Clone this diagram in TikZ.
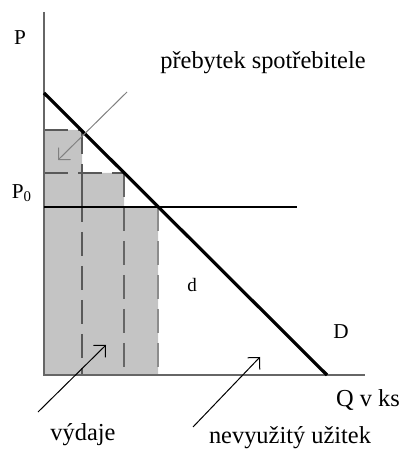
\documentclass[tikz,border=0pt]{standalone}
\usepackage{fontspec}
\setmainfont{Liberation Serif}
\usetikzlibrary{arrows.meta}

\tikzset{
  axisline/.style={gray!80!black, line width=0.8pt},
  stepline/.style={black!65, line width=0.6pt, dash pattern=on 12pt off 5pt},
  pointer/.style={-{Straight Barb[angle=90:6pt]}, line width=0.5pt},
  lbl/.style={font=\fontsize{12.2}{14}\selectfont, inner sep=0pt},
  sym/.style={font=\fontsize{10.6}{12}\selectfont, inner sep=0pt}
}

\begin{document}
\begin{tikzpicture}[x=0.5pt, y=0.5pt]
  \useasboundingbox (-44,-75) rectangle (359,375);

  % area of spending under the steps
  \fill[black!23] (0,0) -- (0,245) -- (38,245) -- (38,202) -- (80,202)
        -- (80,168) -- (114,168) -- (114,0) -- cycle;
  \foreach \x/\y/\c in {38/245/65, 80/202/60, 114/168/45}
    \draw[stepline, black!\c] (\x,\y) -- (\x,0);
  \foreach \x/\y in {38/245, 80/202}
    \draw[stepline] (0,\y) -- (\x,\y);
  \draw[black!65, line width=0.6pt] (38,202) -- (38,168);

  % axes
  \coordinate (O) at (0,0);
  \coordinate (Ptop) at (0,363);
  \coordinate (Qend) at (321,0);
  \draw[axisline] (Ptop) -- (O) -- (Qend);

  % price level and demand
  \coordinate (P0a) at (0,168);
  \coordinate (P0b) at (253,168);
  \draw[line width=1.3pt] (P0a) -- (P0b);
  \coordinate (Da) at (0,282);
  \coordinate (Db) at (283,0);
  \draw[line width=1.6pt] (Da) -- (Db);

  % labels
  \node[sym] (lP) at (-24,337) {P};
  \node[sym] (lP0) at (-22,182) {P\textsubscript{0}};
  \node[sym] (lD) at (297,43) {D};
  \node[sym, font=\fontsize{9.5}{11}\selectfont] (ld) at (148,90) {d};
  \node[lbl] (lQ) at (324,-25) {Q v ks};
  \node[lbl] (lps) at (219,312) {přebytek spotřebitele};
  \node[lbl] (lvy) at (39,-60) {výdaje};
  \node[lbl] (lnu) at (246,-63) {nevyužitý užitek};

  % pointers
  \coordinate (a1s) at (83,283);
  \coordinate (a1e) at (14,215);
  \coordinate (a2s) at (-6,-37);
  \coordinate (a2e) at (62,30);
  \coordinate (a3s) at (149,-52);
  \coordinate (a3e) at (216,18);
  \draw[pointer, gray] (a1s) -- (a1e);
  \draw[pointer] (a2s) -- (a2e);
  \draw[pointer] (a3s) -- (a3e);
\end{tikzpicture}
\end{document}
